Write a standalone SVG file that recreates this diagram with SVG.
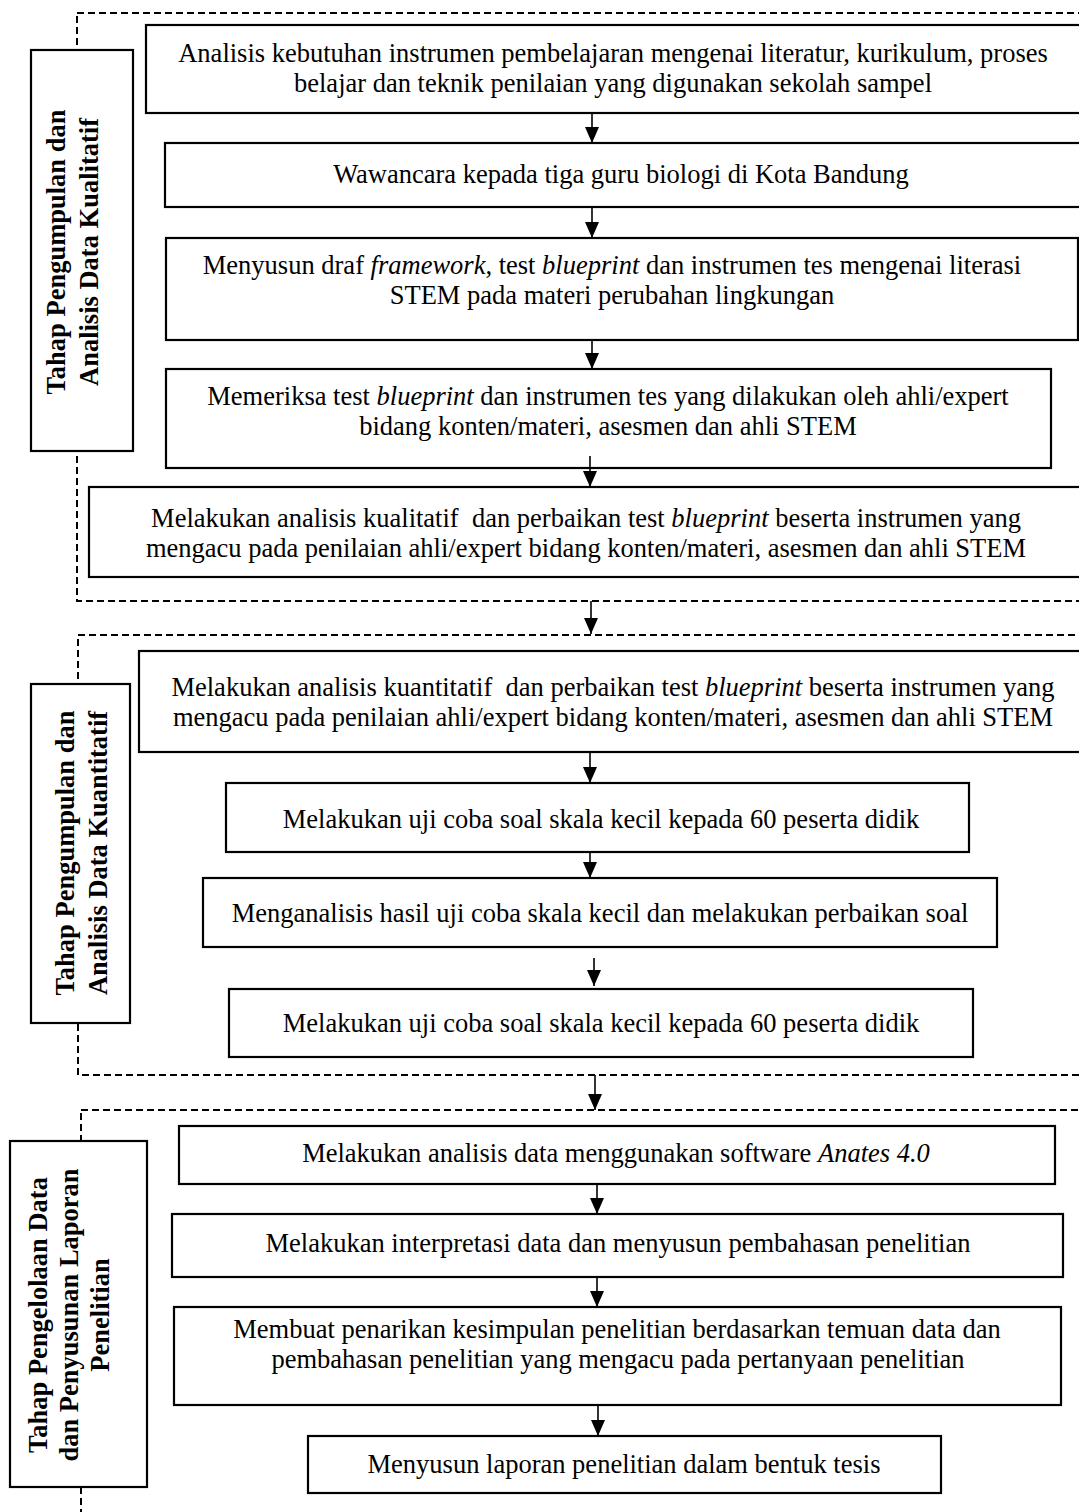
<svg xmlns="http://www.w3.org/2000/svg" width="1079" height="1512" viewBox="0 0 1079 1512">
<style>
.bg{fill:#fff}
.dash{fill:none;stroke:#000;stroke-width:2;stroke-dasharray:7 4}
.box{fill:#fff;stroke:#000;stroke-width:2.2}
.t{font-family:"Liberation Serif","Times New Roman",serif;font-size:26.5px;fill:#000;text-anchor:middle}
.lb{font-family:"Liberation Serif","Times New Roman",serif;font-size:26.5px;font-weight:bold;fill:#000;text-anchor:middle}
.i{font-style:italic}
.ar{stroke:#000;stroke-width:1.6;fill:none}
</style>
<defs>
<marker id="ah" markerUnits="userSpaceOnUse" markerWidth="16" markerHeight="14" viewBox="0 0 16 14" refX="16" refY="7" orient="auto">
<path d="M0,0 L16,7 L0,14 Z" fill="#000"/>
</marker>
</defs>
<rect class="bg" x="0" y="0" width="1079" height="1512"/>
<g id="regions">
<rect class="dash" x="77" y="13" width="1100" height="588"/>
<rect class="dash" x="78" y="635" width="1100" height="440"/>
<rect class="dash" x="81" y="1110" width="1100" height="500"/>
</g>
<g id="label1">
<rect class="box" x="31" y="50" width="102" height="401"/>
<text class="lb" transform="translate(65,252) rotate(-90)">Tahap Pengumpulan dan</text>
<text class="lb" transform="translate(98,252) rotate(-90)">Analisis Data Kualitatif</text>
</g>
<g id="label2">
<rect class="box" x="31" y="684" width="99" height="339"/>
<text class="lb" transform="translate(74,853) rotate(-90)">Tahap Pengumpulan dan</text>
<text class="lb" transform="translate(107,853) rotate(-90)">Analisis Data Kuantitatif</text>
</g>
<g id="label3">
<rect class="box" x="10" y="1141" width="137" height="346"/>
<text class="lb" transform="translate(47,1315) rotate(-90)">Tahap Pengelolaan Data</text>
<text class="lb" transform="translate(78,1315) rotate(-90)">dan Penyusunan Laporan</text>
<text class="lb" transform="translate(109,1315) rotate(-90)">Penelitian</text>
</g>
<g id="n1">
<rect class="box" x="146" y="25" width="950" height="88"/>
<text class="t" x="613" y="62">Analisis kebutuhan instrumen pembelajaran mengenai literatur, kurikulum, proses</text>
<text class="t" x="613" y="92">belajar dan teknik penilaian yang digunakan sekolah sampel</text>
</g>
<g id="n2">
<rect class="box" x="165" y="143" width="930" height="64"/>
<text class="t" x="621" y="183">Wawancara kepada tiga guru biologi di Kota Bandung</text>
</g>
<g id="n3">
<rect class="box" x="166" y="238" width="912" height="102"/>
<text class="t" x="612" y="274">Menyusun draf <tspan class="i">framework</tspan>, test <tspan class="i">blueprint</tspan> dan instrumen tes mengenai literasi</text>
<text class="t" x="612" y="304">STEM pada materi perubahan lingkungan</text>
</g>
<g id="n4">
<rect class="box" x="166" y="369" width="885" height="99"/>
<text class="t" x="608" y="405">Memeriksa test <tspan class="i">blueprint</tspan> dan instrumen tes yang dilakukan oleh ahli/expert</text>
<text class="t" x="608" y="435">bidang konten/materi, asesmen dan ahli STEM</text>
</g>
<g id="n5">
<rect class="box" x="89" y="487" width="1010" height="90"/>
<text class="t" x="586" y="527" xml:space="preserve">Melakukan analisis kualitatif  dan perbaikan test <tspan class="i">blueprint</tspan> beserta instrumen yang</text>
<text class="t" x="586" y="557">mengacu pada penilaian ahli/expert bidang konten/materi, asesmen dan ahli STEM</text>
</g>
<g id="n6">
<rect class="box" x="139" y="651" width="960" height="101"/>
<text class="t" x="613" y="696" xml:space="preserve">Melakukan analisis kuantitatif  dan perbaikan test <tspan class="i">blueprint</tspan> beserta instrumen yang</text>
<text class="t" x="613" y="726">mengacu pada penilaian ahli/expert bidang konten/materi, asesmen dan ahli STEM</text>
</g>
<g id="n7">
<rect class="box" x="226" y="783" width="743" height="69"/>
<text class="t" x="601" y="828">Melakukan uji coba soal skala kecil kepada 60 peserta didik</text>
</g>
<g id="n8">
<rect class="box" x="203" y="878" width="794" height="69"/>
<text class="t" x="600" y="922">Menganalisis hasil uji coba skala kecil dan melakukan perbaikan soal</text>
</g>
<g id="n9">
<rect class="box" x="229" y="989" width="744" height="68"/>
<text class="t" x="601" y="1032">Melakukan uji coba soal skala kecil kepada 60 peserta didik</text>
</g>
<g id="n10">
<rect class="box" x="179" y="1126" width="876" height="58"/>
<text class="t" x="616" y="1162">Melakukan analisis data menggunakan software <tspan class="i">Anates 4.0</tspan></text>
</g>
<g id="n11">
<rect class="box" x="172" y="1214" width="891" height="63"/>
<text class="t" x="618" y="1252">Melakukan interpretasi data dan menyusun pembahasan penelitian</text>
</g>
<g id="n12">
<rect class="box" x="174" y="1307" width="887" height="98"/>
<text class="t" x="617" y="1338">Membuat penarikan kesimpulan penelitian berdasarkan temuan data dan</text>
<text class="t" x="618" y="1368">pembahasan penelitian yang mengacu pada pertanyaan penelitian</text>
</g>
<g id="n13">
<rect class="box" x="308" y="1436" width="633" height="57"/>
<text class="t" x="624" y="1473">Menyusun laporan penelitian dalam bentuk tesis</text>
</g>
<g id="connectors">
<line class="ar" x1="592" y1="113" x2="592" y2="143" marker-end="url(#ah)"/>
<line class="ar" x1="592" y1="207" x2="592" y2="238" marker-end="url(#ah)"/>
<line class="ar" x1="592" y1="340" x2="592" y2="369" marker-end="url(#ah)"/>
<line class="ar" x1="590" y1="456" x2="590" y2="487" marker-end="url(#ah)"/>
<line class="ar" x1="591" y1="601" x2="591" y2="634" marker-end="url(#ah)"/>
<line class="ar" x1="590" y1="752" x2="590" y2="783" marker-end="url(#ah)"/>
<line class="ar" x1="590" y1="852" x2="590" y2="878" marker-end="url(#ah)"/>
<line class="ar" x1="594" y1="958" x2="594" y2="986" marker-end="url(#ah)"/>
<line class="ar" x1="595" y1="1075" x2="595" y2="1110" marker-end="url(#ah)"/>
<line class="ar" x1="597" y1="1184" x2="597" y2="1214" marker-end="url(#ah)"/>
<line class="ar" x1="597" y1="1277" x2="597" y2="1307" marker-end="url(#ah)"/>
<line class="ar" x1="598" y1="1405" x2="598" y2="1436" marker-end="url(#ah)"/>
</g>
</svg>
